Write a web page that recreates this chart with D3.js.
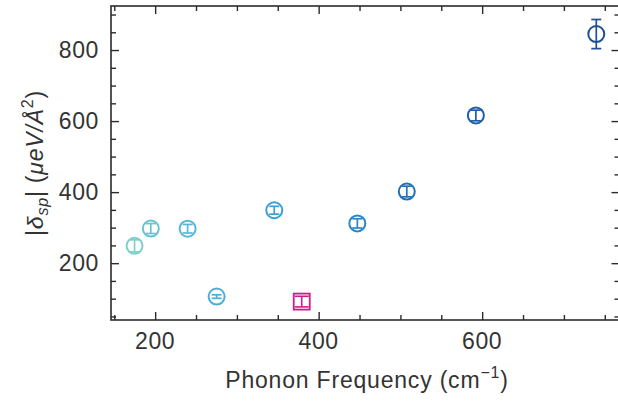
<!DOCTYPE html>
<html>
<head>
<meta charset="utf-8">
<script src="https://cdn.jsdelivr.net/npm/d3@7"></script>
<style>
  html, body { margin: 0; padding: 0; background: #fff; }
  svg { display: block; }
  text { font-family: "Liberation Sans", Arial, Helvetica, sans-serif; fill: #333; }
</style>
</head>
<body>
<svg id="chart" width="618" height="402"></svg>
<script>
// ---- Data ----
const freqs   = [174.8, 194.7, 239.7, 275.2, 345.7, 447.3, 507.8, 592.3, 739.6];
const values  = [248.7, 297.5, 297.0, 106.0, 349.0, 312.0, 401.7, 615.8, 845.0];
const errors  = [17, 14, 12, 5, 11, 13, 15, 15, 41];
const colors  = ["#80cfca", "#68c4d2", "#58b8d6", "#4cafdb", "#3c9fd3", "#2b87c4", "#2272b8", "#1f5ea8", "#1f4e98"];

const squareFreq  = [379.3];
const squareValue = [91.8];
const squareError = [15];
const squareColor = "#c81f8c";

const xTicks = [200, 400, 600];
const yTicks = [200, 400, 600, 800];
const xDomain = [146, 768];
const yDomain = [40, 924];

// ---- Layout ----
const svg = d3.select("#chart");
const L = 111, R = 619.5, T = 6, B = 320;
const x = d3.scaleLinear().domain(xDomain).range([L, R]);
const y = d3.scaleLinear().domain(yDomain).range([B, T]);

const axisColor = "#2b2b2b";
const majorLen = 8, minorLen = 5;

const xMinor = d3.range(150, 800, 50).filter(v => v >= xDomain[0] && v <= xDomain[1] && !xTicks.includes(v));
const yMinor = d3.range(50, 950, 50).filter(v => v >= yDomain[0] && v <= yDomain[1] && !yTicks.includes(v));

function drawAxis(axisGen, transform, tickLen) {
  const g = svg.append("g").attr("transform", transform).call(axisGen.tickSizeInner(tickLen).tickSizeOuter(0));
  g.select(".domain").remove();
  g.selectAll(".tick line").attr("stroke", axisColor).attr("stroke-width", 1.4);
  g.selectAll(".tick text").remove();
  return g;
}

drawAxis(d3.axisTop(x).tickValues(xTicks), `translate(0,${B})`, majorLen);
drawAxis(d3.axisTop(x).tickValues(xMinor), `translate(0,${B})`, minorLen);
drawAxis(d3.axisBottom(x).tickValues(xTicks), `translate(0,${T})`, majorLen);
drawAxis(d3.axisBottom(x).tickValues(xMinor), `translate(0,${T})`, minorLen);
drawAxis(d3.axisRight(y).tickValues(yTicks), `translate(${L},0)`, majorLen);
drawAxis(d3.axisRight(y).tickValues(yMinor), `translate(${L},0)`, minorLen);
drawAxis(d3.axisLeft(y).tickValues(yTicks), `translate(${R},0)`, majorLen);
drawAxis(d3.axisLeft(y).tickValues(yMinor), `translate(${R},0)`, minorLen);

// Tick labels
svg.append("g").selectAll("text").data(xTicks).join("text")
  .attr("x", d => x(d)).attr("y", 349)
  .attr("text-anchor", "middle").attr("font-size", 23).attr("letter-spacing", 0.6)
  .text(d => d);
svg.append("g").selectAll("text").data(yTicks).join("text")
  .attr("x", 99).attr("y", d => y(d) + 8)
  .attr("text-anchor", "end").attr("font-size", 23).attr("letter-spacing", 0.6)
  .text(d => d);

// Frame
svg.append("rect")
  .attr("x", L).attr("y", T).attr("width", R - L).attr("height", B - T)
  .attr("fill", "none").attr("stroke", axisColor).attr("stroke-width", 1.6);

// ---- Circle points with error bars ----
const pts = freqs.map((f, i) => ({ f, v: values[i], e: errors[i], c: colors[i] }));
const capW = 5, rad = 8;
const gp = svg.append("g");
pts.forEach(p => {
  const cx = x(p.f), cy = y(p.v);
  const g = gp.append("g").attr("stroke", p.c).attr("fill", "none");
  g.append("circle").attr("cx", cx).attr("cy", cy).attr("r", rad).attr("stroke-width", 2);
  g.append("line").attr("x1", cx).attr("x2", cx).attr("y1", y(p.v - p.e)).attr("y2", y(p.v + p.e)).attr("stroke-width", 1.7);
  [p.v - p.e, p.v + p.e].forEach(v => {
    g.append("line").attr("x1", cx - capW).attr("x2", cx + capW).attr("y1", y(v)).attr("y2", y(v)).attr("stroke-width", 1.7);
  });
});

// ---- Square point ----
squareFreq.forEach((f, i) => {
  const cx = x(f), cy = y(squareValue[i]), e = squareError[i];
  const g = svg.append("g").attr("stroke", squareColor).attr("fill", "none");
  g.append("rect").attr("x", cx - 8).attr("y", cy - 8).attr("width", 16).attr("height", 16).attr("stroke-width", 1.8);
  g.append("line").attr("x1", cx).attr("x2", cx).attr("y1", y(squareValue[i] - e)).attr("y2", y(squareValue[i] + e)).attr("stroke-width", 1.6);
  [squareValue[i] - e, squareValue[i] + e].forEach(v => {
    g.append("line").attr("x1", cx - 7).attr("x2", cx + 7).attr("y1", y(v)).attr("y2", y(v)).attr("stroke-width", 1.6);
  });
});

// ---- Axis titles ----
const xl = svg.append("text").attr("x", 367).attr("y", 388).attr("text-anchor", "middle")
  .attr("font-size", 23).attr("letter-spacing", 0.8);
xl.append("tspan").text("Phonon Frequency (cm");
xl.append("tspan").attr("dy", -10).attr("font-size", 16).text("\u22121");
xl.append("tspan").attr("dy", 10).text(")");

const yl = svg.append("text")
  .attr("transform", `translate(43,163) rotate(-90)`)
  .attr("text-anchor", "middle").attr("font-size", 23).attr("letter-spacing", 0.8);
yl.append("tspan").text("|");
yl.append("tspan").attr("font-style", "italic").text("\u03b4");
yl.append("tspan").attr("font-style", "italic").attr("font-size", 16).attr("dy", 5).text("sp");
yl.append("tspan").attr("dy", -5).text("| (");
yl.append("tspan").attr("font-style", "italic").text("\u03bceV/\u00c5");
yl.append("tspan").attr("font-size", 16).attr("dy", -10).text("2");
yl.append("tspan").attr("dy", 10).text(")");
</script>
</body>
</html>
